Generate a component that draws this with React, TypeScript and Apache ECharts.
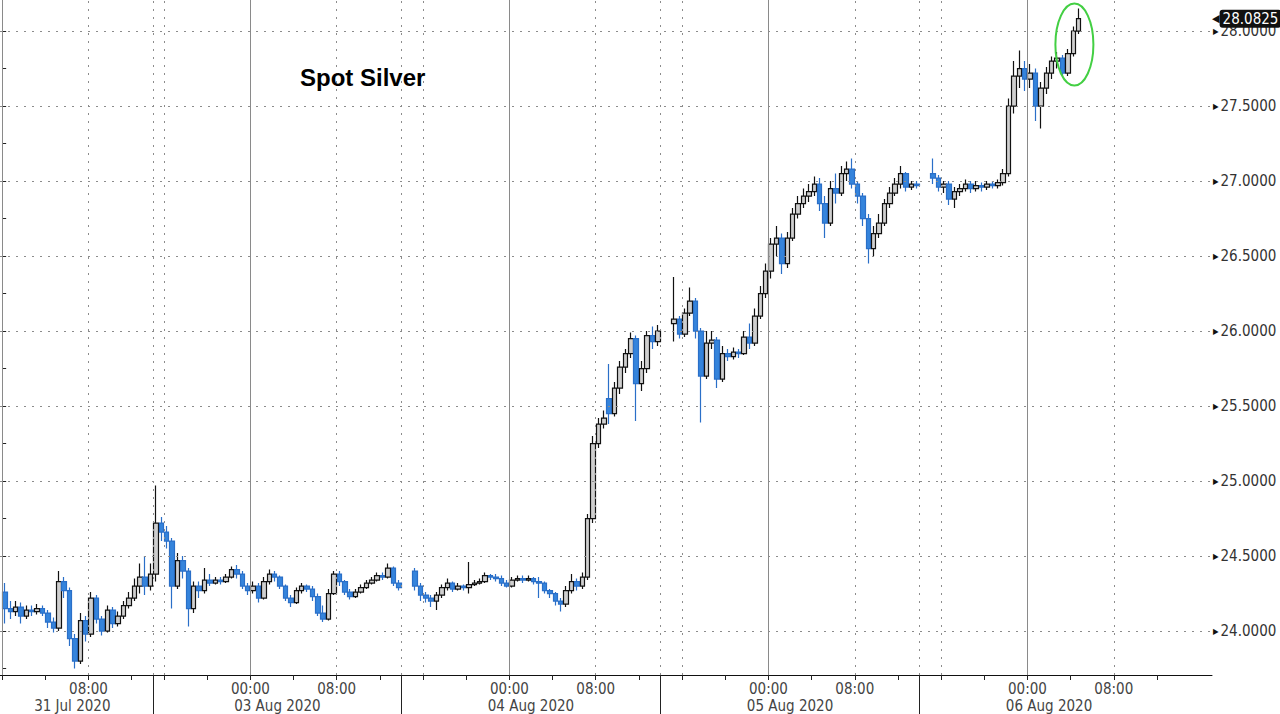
import React, { useEffect, useRef } from "react";
import * as echarts from "echarts";

// ---- time layout (compressed trading hours; weekend removed) ----
// 0 = 31 Jul 00:00, 14 = 31 Jul 14:00 / 02 Aug 15:00, 23 = 03 Aug 00:00, 47 = 04 Aug 00:00 ...
const BAR_HOURS = 0.5;
const sessionStartHours = [0, 14, 38, 62, 86];

// ---- 30-minute bars: [open, close, low, high] ----
const session31Jul = [
  [24.26, 24.15, 24.05, 24.32], [24.15, 24.13, 24.08, 24.2], [24.13, 24.16, 24.1, 24.2], [24.16, 24.1, 24.05, 24.19],
  [24.1, 24.14, 24.08, 24.17], [24.14, 24.13, 24.1, 24.17], [24.13, 24.15, 24.11, 24.18], [24.15, 24.12, 24.1, 24.17],
  [24.12, 24.06, 24.02, 24.14], [24.06, 24.02, 23.99, 24.09], [24.02, 24.33, 24.0, 24.4], [24.33, 24.27, 24.22, 24.36],
  [24.27, 23.95, 23.9, 24.29], [23.95, 23.8, 23.75, 23.98], [23.8, 24.07, 23.78, 24.12], [24.07, 23.98, 23.93, 24.1],
  [23.98, 24.22, 23.96, 24.26], [24.22, 24.08, 24.05, 24.24], [24.08, 24.0, 23.97, 24.1], [24.0, 24.14, 23.99, 24.17],
  [24.14, 24.05, 24.02, 24.16], [24.05, 24.1, 24.03, 24.13], [24.1, 24.17, 24.08, 24.2], [24.17, 24.22, 24.15, 24.26],
  [24.22, 24.3, 24.2, 24.35], [24.3, 24.36, 24.25, 24.45], [24.36, 24.3, 24.24, 24.5], [24.3, 24.38, 24.27, 24.45],
];

const session03Aug = [
  [24.38, 24.72, 24.33, 24.97], [24.72, 24.66, 24.6, 24.76], [24.66, 24.6, 24.55, 24.7], [24.6, 24.3, 24.15, 24.62],
  [24.3, 24.47, 24.28, 24.52], [24.47, 24.4, 24.35, 24.5], [24.4, 24.15, 24.03, 24.42], [24.15, 24.3, 24.12, 24.33],
  [24.3, 24.27, 24.22, 24.33], [24.27, 24.34, 24.25, 24.42], [24.34, 24.32, 24.3, 24.38], [24.32, 24.34, 24.31, 24.36],
  [24.34, 24.33, 24.31, 24.36], [24.33, 24.36, 24.32, 24.38], [24.36, 24.41, 24.35, 24.43], [24.41, 24.38, 24.35, 24.44],
  [24.38, 24.3, 24.28, 24.4], [24.3, 24.27, 24.24, 24.32], [24.27, 24.3, 24.25, 24.33], [24.3, 24.22, 24.19, 24.32],
  [24.22, 24.33, 24.21, 24.36], [24.33, 24.38, 24.31, 24.41], [24.38, 24.36, 24.33, 24.4], [24.36, 24.3, 24.28, 24.37],
  [24.3, 24.22, 24.2, 24.31], [24.22, 24.19, 24.16, 24.24], [24.19, 24.27, 24.18, 24.29], [24.27, 24.3, 24.25, 24.32],
  [24.3, 24.28, 24.26, 24.31], [24.28, 24.23, 24.2, 24.3], [24.23, 24.12, 24.1, 24.25], [24.12, 24.08, 24.06, 24.17],
  [24.08, 24.25, 24.07, 24.28], [24.25, 24.38, 24.24, 24.4], [24.38, 24.33, 24.3, 24.4], [24.33, 24.26, 24.24, 24.34],
  [24.26, 24.23, 24.21, 24.28], [24.23, 24.26, 24.22, 24.28], [24.26, 24.29, 24.25, 24.31], [24.29, 24.32, 24.28, 24.34],
  [24.32, 24.34, 24.31, 24.36], [24.34, 24.37, 24.33, 24.39], [24.37, 24.36, 24.34, 24.39], [24.36, 24.42, 24.35, 24.45],
  [24.42, 24.32, 24.3, 24.43], [24.32, 24.29, 24.27, 24.34],
];

const session04Aug = [
  [24.4, 24.3, 24.27, 24.42], [24.3, 24.24, 24.2, 24.32], [24.24, 24.22, 24.19, 24.26], [24.22, 24.2, 24.16, 24.24],
  [24.2, 24.24, 24.14, 24.26], [24.24, 24.29, 24.22, 24.31], [24.29, 24.32, 24.27, 24.35], [24.32, 24.28, 24.26, 24.33],
  [24.28, 24.3, 24.27, 24.32], [24.3, 24.29, 24.27, 24.31], [24.29, 24.31, 24.25, 24.46], [24.31, 24.32, 24.3, 24.34],
  [24.32, 24.33, 24.31, 24.35], [24.33, 24.37, 24.32, 24.39], [24.37, 24.36, 24.34, 24.38], [24.36, 24.35, 24.33, 24.38],
  [24.35, 24.32, 24.3, 24.37], [24.32, 24.3, 24.29, 24.34], [24.3, 24.34, 24.29, 24.36], [24.34, 24.35, 24.33, 24.37],
  [24.35, 24.34, 24.32, 24.37], [24.34, 24.35, 24.33, 24.37], [24.35, 24.33, 24.31, 24.36], [24.33, 24.32, 24.22, 24.36],
  [24.32, 24.27, 24.25, 24.33], [24.27, 24.25, 24.22, 24.28], [24.25, 24.2, 24.17, 24.26], [24.2, 24.18, 24.13, 24.22],
  [24.18, 24.27, 24.16, 24.3], [24.27, 24.33, 24.25, 24.38], [24.33, 24.3, 24.27, 24.35], [24.3, 24.36, 24.28, 24.39],
  [24.36, 24.75, 24.34, 24.78], [24.75, 25.25, 24.72, 25.3], [25.25, 25.38, 25.22, 25.42], [25.38, 25.42, 25.35, 25.47],
  [25.55, 25.45, 25.38, 25.78], [25.45, 25.62, 25.43, 25.66], [25.62, 25.76, 25.58, 25.8], [25.76, 25.85, 25.72, 25.88],
  [25.85, 25.95, 25.82, 25.99], [25.95, 25.65, 25.4, 25.97], [25.65, 25.75, 25.6, 25.8], [25.75, 25.97, 25.72, 26.0],
  [25.97, 25.93, 25.88, 26.03], [25.93, 26.0, 25.9, 26.04],
];

const session05Aug = [
  [26.05, 26.08, 25.93, 26.36], [26.08, 25.98, 25.95, 26.1], [25.98, 26.12, 25.96, 26.15], [26.12, 26.2, 26.1, 26.29],
  [26.2, 26.0, 25.95, 26.22], [26.0, 25.7, 25.39, 26.02], [25.7, 25.92, 25.68, 26.0], [25.92, 25.94, 25.88, 26.0],
  [25.94, 25.68, 25.62, 25.96], [25.68, 25.85, 25.66, 25.9], [25.85, 25.83, 25.8, 25.88], [25.83, 25.86, 25.81, 25.89],
  [25.86, 25.85, 25.82, 25.88], [25.85, 25.96, 25.84, 26.0], [25.96, 25.92, 25.88, 26.05], [25.92, 26.1, 25.9, 26.15],
  [26.1, 26.25, 26.08, 26.3], [26.25, 26.4, 26.22, 26.45], [26.4, 26.58, 26.35, 26.62], [26.58, 26.62, 26.5, 26.7],
  [26.62, 26.45, 26.38, 26.65], [26.45, 26.62, 26.42, 26.66], [26.62, 26.78, 26.6, 26.82], [26.78, 26.85, 26.75, 26.9],
  [26.85, 26.9, 26.82, 26.95], [26.9, 26.93, 26.86, 26.98], [26.93, 26.98, 26.9, 27.03], [26.98, 26.85, 26.8, 27.02],
  [26.85, 26.72, 26.62, 26.9], [26.72, 26.95, 26.7, 27.0], [26.95, 26.92, 26.85, 27.05], [26.92, 27.05, 26.9, 27.1],
  [27.05, 27.08, 27.0, 27.13], [27.08, 26.98, 26.95, 27.15], [26.98, 26.9, 26.85, 27.0], [26.9, 26.75, 26.7, 26.92],
  [26.75, 26.55, 26.45, 26.78], [26.55, 26.65, 26.5, 26.7], [26.65, 26.72, 26.62, 26.78], [26.72, 26.85, 26.7, 26.88],
  [26.85, 26.92, 26.82, 26.96], [26.92, 26.98, 26.9, 27.02], [26.98, 27.05, 26.95, 27.1], [27.05, 26.96, 26.93, 27.06],
  [26.96, 26.98, 26.94, 27.0], [26.98, 26.97, 26.95, 27.0],
];

const session06Aug = [
  [27.05, 27.02, 26.98, 27.15], [27.02, 26.96, 26.93, 27.04], [26.96, 26.98, 26.92, 27.0], [26.98, 26.88, 26.84, 27.0],
  [26.88, 26.93, 26.82, 26.96], [26.93, 26.95, 26.9, 26.98], [26.95, 26.98, 26.93, 27.01], [26.98, 26.95, 26.92, 27.0],
  [26.95, 26.97, 26.93, 27.0], [26.97, 26.96, 26.93, 26.99], [26.96, 26.98, 26.94, 27.0], [26.98, 26.97, 26.95, 27.0],
  [26.97, 26.99, 26.95, 27.01], [26.99, 27.05, 26.97, 27.08], [27.05, 27.5, 27.03, 27.55], [27.5, 27.7, 27.45, 27.8],
  [27.7, 27.75, 27.62, 27.87], [27.75, 27.68, 27.6, 27.8], [27.68, 27.72, 27.62, 27.78], [27.72, 27.5, 27.4, 27.75],
  [27.5, 27.62, 27.35, 27.66], [27.62, 27.72, 27.58, 27.76], [27.72, 27.8, 27.68, 27.83], [27.8, 27.82, 27.75, 27.86],
  [27.82, 27.72, 27.7, 27.84], [27.72, 27.85, 27.7, 27.88], [27.85, 28.0, 27.83, 28.03], [28.0, 28.0825, 27.98, 28.15],
];

const sessions = [session31Jul, session03Aug, session04Aug, session05Aug, session06Aug];
const lastPrice = 28.0825;

// ---- axes ----
const xMin = -0.2;
const xMax = 112.1;
const yMin = 23.707;
const yMax = 28.207;

const timeTickHours = [0, 4, 8, 12, 15, 19, 23, 27, 31, 35, 39, 43, 47, 51, 55, 59, 63, 67, 71, 75, 79, 83, 87, 91, 95, 99, 103, 107];
const timeLabelHours = [8, 23, 31, 47, 55, 71, 79, 95, 103];
const timeLabelTexts = ["08:00", "00:00", "08:00", "00:00", "08:00", "00:00", "08:00", "00:00", "08:00"];
const dateLabelHours = [6.5, 25.5, 49, 73, 97];
const dateLabelTexts = ["31 Jul 2020", "03 Aug 2020", "04 Aug 2020", "05 Aug 2020", "06 Aug 2020"];
const sessionBreakHours = [14, 37, 61, 85];
const midnightHours = [0, 23, 47, 71, 95];
const dottedHours = [8, 14, 15, 31, 37, 39, 55, 61, 63, 79, 85, 87, 103];
const priceTickValues = [23.75, 24, 24.25, 24.5, 24.75, 25, 25.25, 25.5, 25.75, 26, 26.25, 26.5, 26.75, 27, 27.25, 27.5, 27.75, 28];
const priceLabelValues = [24, 24.5, 25, 25.5, 26, 26.5, 27, 27.5, 28];

const title = "Spot Silver";
const highlightCenter = [99.35, 27.91];

const AXIS_FONT = "'DejaVu Sans Condensed', 'DejaVu Sans', sans-serif";

function findLabel(v: number, keys: number[], texts: string[]) {
  for (let i = 0; i < keys.length; i++) if (Math.abs(keys[i] - v) < 1e-6) return texts[i];
  return "";
}

export default function App() {
  const ref = useRef<HTMLDivElement>(null);

  useEffect(() => {
    if (!ref.current) return;
    const chart = echarts.init(ref.current, undefined, { renderer: "svg" });

    const candles: number[][] = [];
    sessions.forEach((bars, s) => {
      bars.forEach((b, i) => {
        candles.push([sessionStartHours[s] + i * BAR_HOURS + BAR_HOURS / 2, b[0], b[1], b[2], b[3]]);
      });
    });

    const dotted = { type: [2, 6] as any, color: "#8c8c8c", width: 1 };
    const gridLines: any[] = [];
    dottedHours.forEach((h) => gridLines.push({ xAxis: h, lineStyle: dotted }));
    midnightHours.forEach((h) => gridLines.push({ xAxis: h, lineStyle: { type: "solid", color: "#8a8a8a", width: 1 } }));
    priceLabelValues.forEach((p) => gridLines.push({ yAxis: p, lineStyle: dotted }));

    const option: any = {
      animation: false,
      backgroundColor: "#ffffff",
      title: {
        text: title,
        left: 300,
        top: 65,
        padding: 0,
        textStyle: { fontFamily: "'Liberation Sans', Arial, sans-serif", fontSize: 24, fontWeight: "bold", color: "#000" },
      },
      grid: { left: 0, right: 68, top: 0, bottom: 39, containLabel: false, outerBoundsMode: "none" },
      xAxis: [
        {
          type: "value",
          min: xMin,
          max: xMax,
          position: "bottom",
          axisLine: { show: true, lineStyle: { color: "#111", width: 1 } },
          axisTick: { show: true, customValues: timeTickHours, length: 5, lineStyle: { color: "#222" } },
          axisLabel: {
            show: true,
            customValues: timeLabelHours,
            formatter: (v: number) => findLabel(v, timeLabelHours, timeLabelTexts),
            margin: 6,
            color: "#444",
            fontSize: 15,
            fontFamily: AXIS_FONT,
          },
          splitLine: { show: false },
        },
        {
          type: "value",
          min: xMin,
          max: xMax,
          position: "bottom",
          axisLine: { show: false },
          axisTick: { show: true, customValues: sessionBreakHours, length: 40, lineStyle: { color: "#222" } },
          axisLabel: {
            show: true,
            customValues: dateLabelHours,
            formatter: (v: number) => findLabel(v, dateLabelHours, dateLabelTexts),
            margin: 23,
            color: "#444",
            fontSize: 15,
            fontFamily: AXIS_FONT,
          },
          splitLine: { show: false },
        },
      ],
      yAxis: [
        {
          type: "value",
          min: yMin,
          max: yMax,
          position: "right",
          axisLine: { show: true, lineStyle: { color: "#111", width: 1 } },
          axisTick: { show: true, customValues: priceTickValues, length: 4, lineStyle: { color: "#222" } },
          axisLabel: {
            show: true,
            customValues: priceLabelValues,
            formatter: (v: number) => `{t|▶}${v.toFixed(4)}`,
            margin: 1,
            color: "#333",
            fontSize: 15,
            fontFamily: AXIS_FONT,
            rich: { t: { fontSize: 8, color: "#111", padding: [0, 2, 0, 0] } },
          },
          splitLine: { show: false },
        },
        {
          type: "value",
          min: yMin,
          max: yMax,
          position: "right",
          axisLine: { show: false },
          axisTick: { show: false },
          splitLine: { show: false },
          axisLabel: {
            show: true,
            customValues: [lastPrice],
            formatter: (v: number) => `{a|◀}{b|${v.toFixed(4)}}`,
            margin: 0,
            fontFamily: AXIS_FONT,
            fontSize: 15,
            rich: {
              a: { color: "#111", fontSize: 11, padding: [0, 0, 0, 0] },
              b: { color: "#fff", backgroundColor: "#111", padding: [2, 3, 1, 3], borderRadius: 3, fontSize: 15, fontFamily: AXIS_FONT },
            },
          },
        },
      ],
      series: [
        {
          type: "line",
          xAxisIndex: 0,
          yAxisIndex: 0,
          data: [],
          z: 1,
          silent: true,
          markLine: { silent: true, symbol: ["none", "none"], label: { show: false }, data: gridLines, animation: false },
        },
        {
          type: "candlestick",
          xAxisIndex: 0,
          yAxisIndex: 0,
          z: 3,
          data: candles,
          encode: { x: 0, y: [1, 2, 3, 4] },
          barWidth: 5,
          itemStyle: {
            color: "#cfcfcf",
            color0: "#3584dc",
            borderColor: "#111111",
            borderColor0: "#2a6fc8",
            borderWidth: 1.2,
          },
        },
      ],
    };

    chart.setOption(option);

    const c = chart.convertToPixel({ xAxisIndex: 0, yAxisIndex: 0 }, highlightCenter) as number[];
    if (c && isFinite(c[0])) {
      chart.setOption({
        graphic: [
          {
            type: "ellipse",
            shape: { cx: c[0], cy: c[1], rx: 19, ry: 41 },
            style: { fill: "none", stroke: "#43cf43", lineWidth: 2 },
            z: 100,
            silent: true,
          },
        ],
      });
    }

    return () => chart.dispose();
  }, []);

  return (
    <div
      ref={ref}
      style={{ position: "fixed", left: 0, top: 0, width: 1280, height: 714, background: "#fff" }}
    />
  );
}
